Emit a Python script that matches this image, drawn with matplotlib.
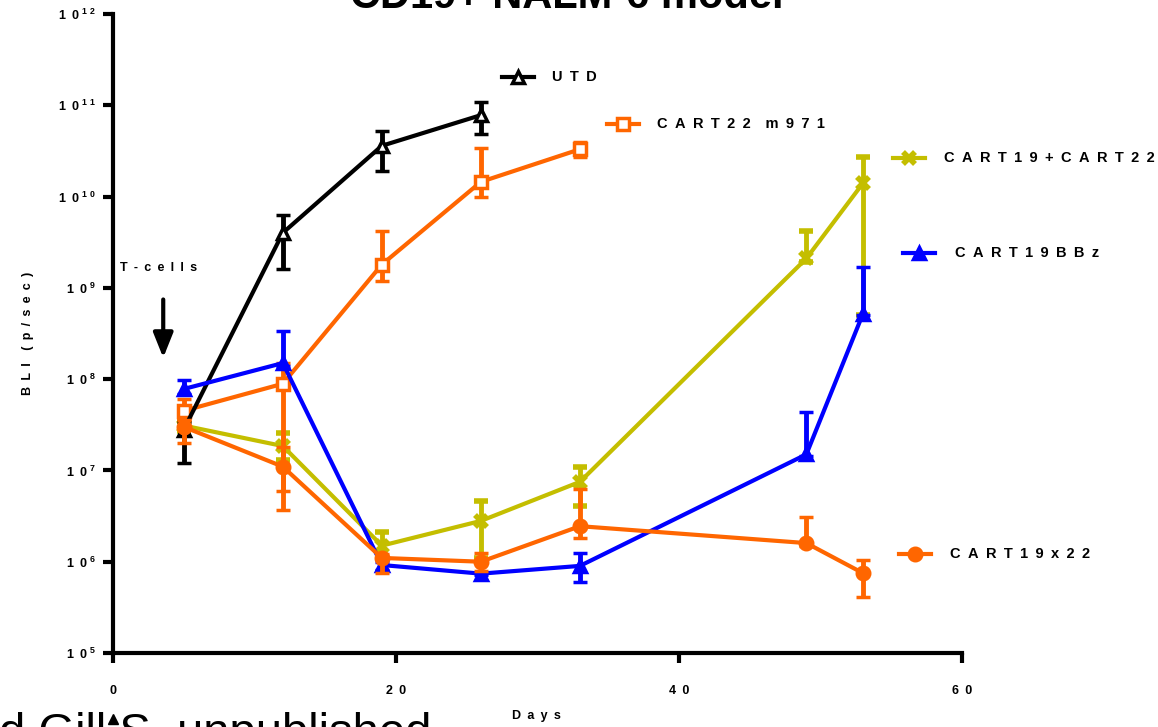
import numpy as np
import matplotlib.pyplot as plt
from matplotlib.lines import Line2D

plt.rcParams['font.family'] = ['Liberation Sans', 'DejaVu Sans']
plt.rcParams['mathtext.fontset'] = 'custom'
plt.rcParams['mathtext.rm'] = 'Liberation Sans:bold'
plt.rcParams['mathtext.bf'] = 'Liberation Sans:bold'

# days of BLI imaging
days = [5, 12, 19, 26, 33, 49, 53]

# mean BLI and error bar ends (p/sec)
utd = [2.8e7, 4.0e9, 3.6e10, 7.8e10]
utd_hi = [3.4e7, 6.3e9, 5.2e10, 1.1e11]
utd_lo = [1.2e7, 1.6e9, 1.9e10, 4.9e10]

cart22 = [4.5e7, 8.9e7, 1.8e9, 1.45e10, 3.3e10]
cart22_hi = [6.0e7, 1.5e8, 4.2e9, 3.4e10, 4.0e10]
cart22_lo = [3.6e7, 3.7e6, 1.2e9, 1.0e10, 2.7e10]

combo = [3.1e7, 1.85e7, 1.5e6, 2.8e6, 7.5e6, 2.1e9, 1.4e10]
combo_hi = [3.5e7, 2.6e7, 2.1e6, 4.6e6, 1.1e7, 4.2e9, 2.7e10]
combo_lo = [2.7e7, 1.3e7, 1.1e6, 1.1e6, 4.1e6, 1.9e9, 5.0e8]

bbz = [7.8e7, 1.5e8, 9.2e5, 7.4e5, 9.0e5, 1.5e7, 5.2e8]
bbz_hi = [9.8e7, 3.4e8, 1.0e6, 7.6e5, 1.26e6, 4.4e7, 1.7e9]
bbz_lo = [6.8e7, 1.4e8, 8.2e5, 7.2e5, 6.0e5, 1.45e7, 5.0e8]

x22 = [3.0e7, 1.1e7, 1.1e6, 1.0e6, 2.45e6, 1.6e6, 7.5e5]
x22_hi = [3.6e7, 1.8e7, 1.2e6, 1.25e6, 6.2e6, 3.1e6, 1.05e6]
x22_lo = [2.0e7, 6.0e6, 7.6e5, 8.0e5, 1.8e6, 1.5e6, 4.1e5]

W, H = 1158, 727
fig = plt.figure(figsize=(W / 100, H / 100), dpi=100)
ax = fig.add_axes([113 / W, 1 - 653 / H, (962 - 113) / W, (653 - 14) / H])


def fpos(px, py):
    return px / W, 1 - py / H


def sp(s):
    # GraphPad style letter spacing
    return '\u2002'.join(s)


def series(y, hi, lo, color, marker, face, z):
    n = len(y)
    y = np.array(y)
    err = [y - np.array(lo), np.array(hi) - y]
    mew = 4 if marker == 'x' else 2.5
    ax.errorbar(days[:n], y, yerr=err, color=color, lw=3, marker=marker,
                ms=9, mfc=face, mec=color, mew=mew, elinewidth=3.5,
                capsize=5, capthick=3.5, zorder=z, clip_on=False)


orange = '#FF6600'
yellow = '#C4BE00'
blue = '#0000FF'

series(combo, combo_hi, combo_lo, yellow, 'x', yellow, 2)
series(cart22, cart22_hi, cart22_lo, orange, 's', 'white', 3)
series(utd, utd_hi, utd_lo, 'black', '^', 'white', 4)
series(bbz, bbz_hi, bbz_lo, blue, '^', blue, 5)
series(x22, x22_hi, x22_lo, orange, 'o', orange, 6)

ax.set_yscale('log')
ax.set_ylim(1e5, 1e12)
ax.set_xlim(0, 60)
ax.set_xticks([0, 20, 40, 60])
ax.set_xticklabels([sp(str(v)) for v in [0, 20, 40, 60]], fontsize=9,
                   fontweight='bold')
ax.set_yticks([10.0 ** k for k in range(5, 13)])
ax.set_yticklabels([sp('10') + ' $^{%s}$' % r'\ '.join(str(k))
                    for k in range(5, 13)], fontsize=9, fontweight='bold')
ax.yaxis.set_minor_locator(plt.NullLocator())
ax.tick_params(axis='both', direction='out', length=7, width=3)
ax.tick_params(axis='x', pad=16)
ax.tick_params(axis='y', pad=5)
for s in ['top', 'right']:
    ax.spines[s].set_visible(False)
for s in ['left', 'bottom']:
    ax.spines[s].set_linewidth(3)

fig.text(28 / W, 1 - 333 / H, sp('BLI') + '\u2002\u2002' + sp('(p/sec)'),
         rotation=90, fontsize=9, fontweight='bold', ha='center', va='center')
fig.text(536 / W, 1 - 716 / H, sp('Days'), fontsize=9, fontweight='bold',
         ha='center', va='center')

# T-cells injection arrow
ax.text(0.5, 1.65e9, sp('T-cells'), fontsize=9, fontweight='bold',
        ha='left', va='center')
ax.annotate('', xy=(3.55, 1.6e8), xytext=(3.55, 8e8),
            arrowprops=dict(arrowstyle='-|>,head_width=0.6,head_length=1.5',
                            color='black', lw=3))

# legend entries next to line ends
legend = [
    ('UTD', 'black', '^', 'white', 502, 552, 77),
    ('CART22 m971', orange, 's', 'white', 607, 657, 124),
    ('CART19+CART22', yellow, 'x', yellow, 893, 944, 158),
    ('CART19BBz', blue, '^', blue, 903, 955, 253),
    ('CART19x22', orange, 'o', orange, 899, 950, 554),
]
for label, c, m, fc, x0, xt, yy in legend:
    xa, ya = fpos(x0, yy)
    xb, _ = fpos(x0 + 32, yy)
    fig.add_artist(Line2D([xa, xb], [ya, ya], color=c, lw=3))
    fig.add_artist(Line2D([(xa + xb) / 2], [ya], color=c, marker=m, ms=9,
                          mfc=fc, mec=c, mew=4 if m == 'x' else 2.5))
    tx, ty = fpos(xt, yy)
    fig.text(tx, ty, sp(label).replace('\u2002 \u2002', '\u2002\u2002'),
             fontsize=10.5, fontweight='bold', ha='left', va='center')

# title and source, both cut off by the crop in the reference
fig.text(567 / W, 1 - 8 / H, 'CD19+ NALM-6 model', fontsize=30,
         fontweight='bold', ha='center', va='baseline')
fig.text(-1 / W, 1 - 746 / H, 'd Gill S, unpublished', fontsize=34,
         ha='left', va='baseline')
fig.add_artist(Line2D([113 / W], [1 - 719 / H], color='black', marker='^',
                      ms=7, lw=0))

fig.savefig('out.png', dpi=100)
